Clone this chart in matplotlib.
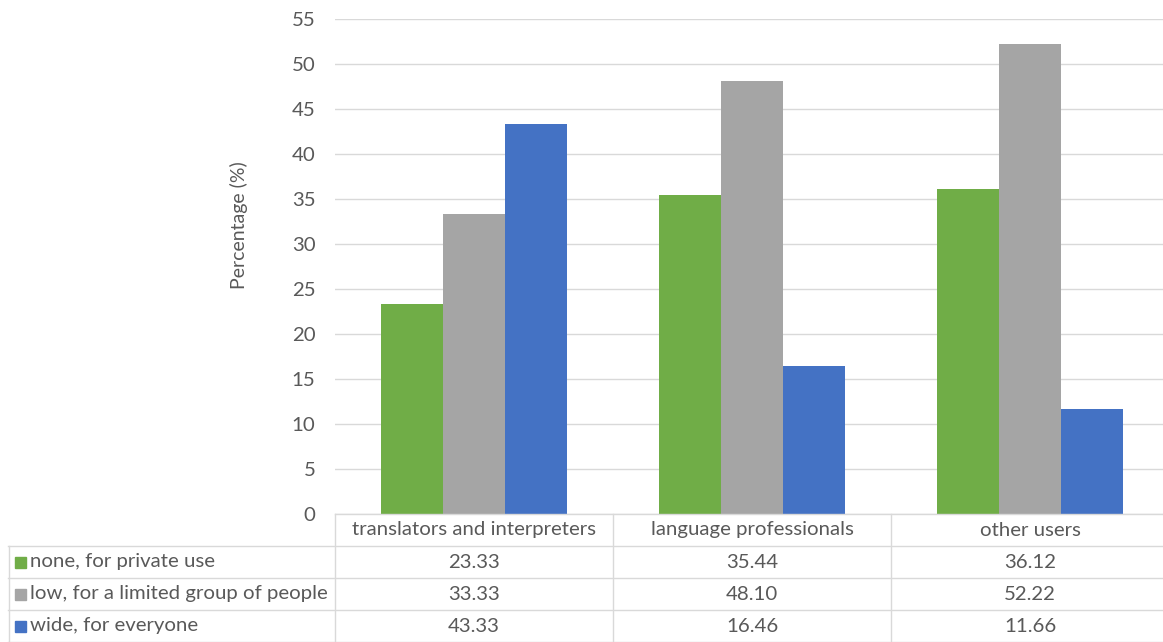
import numpy as np
import matplotlib
import matplotlib.pyplot as plt
from matplotlib.lines import Line2D
from matplotlib.patches import Rectangle

matplotlib.rc("font", family=["Lato", "DejaVu Sans"], size=13)

categories = ["translators and interpreters", "language professionals", "other users"]
series = ["none, for private use", "low, for a limited group of people", "wide, for everyone"]
none_vals = [23.33, 35.44, 36.12]
low_vals = [33.33, 48.10, 52.22]
wide_vals = [43.33, 16.46, 11.66]
colors = ["#70ad47", "#a5a5a5", "#4472c4"]
yticks = list(range(0, 60, 5))

W, H = 1163, 642
fig = plt.figure(figsize=(W / 100, H / 100), dpi=100)
# plot area runs a little past the right edge of the picture, as in the source
x0, x1, yb, yt = 335, 1169, 514, 19
ax = fig.add_axes([x0 / W, 1 - yb / H, (x1 - x0) / W, (yb - yt) / H])

txt = "#595959"
grid = "#d9d9d9"
fs = 14.7
values = [none_vals, low_vals, wide_vals]
x = np.arange(len(categories))
bw = 0.223
for i, (vals, c) in enumerate(zip(values, colors)):
    ax.bar(x + (i - 1) * bw, vals, width=bw, color=c, zorder=3)

ax.set_xlim(-0.5, len(categories) - 0.5)
ax.set_ylim(0, 55)
ax.set_yticks(yticks)
ax.set_xticks([])
ax.yaxis.grid(True, color=grid, linewidth=1)
ax.tick_params(axis="y", length=0, colors=txt, labelsize=fs, pad=14)
for s in ax.spines.values():
    s.set_visible(False)
ax.set_ylabel("Percentage (%)", color=txt, fontsize=14)
ax.yaxis.set_label_coords(-0.104, 0.584)

# data table below the plot
def fx(px):
    return px / W

def fy(py):
    return 1 - py / H

col_edges = [x0 + (x1 - x0) * k / len(categories) for k in range(len(categories) + 1)]
row_h = 32
rows_y = [yb + row_h * k for k in range(len(series) + 2)]
lw = 1
fig.add_artist(Line2D([fx(x0), fx(x1)], [fy(yb), fy(yb)], color=grid, lw=lw))
for ry in rows_y[1:]:
    fig.add_artist(Line2D([fx(8), fx(x1)], [fy(ry), fy(ry)], color=grid, lw=lw))
fig.add_artist(Line2D([fx(8.5), fx(8.5)], [fy(rows_y[1]), fy(rows_y[-1])], color=grid, lw=lw))
for cx in col_edges:
    fig.add_artist(Line2D([fx(cx), fx(cx)], [fy(yb), fy(rows_y[-1])], color=grid, lw=lw))

for k, cat in enumerate(categories):
    cx = (col_edges[k] + col_edges[k + 1]) / 2
    fig.text(fx(cx), fy(yb + row_h / 2), cat, ha="center", va="center", color=txt, fontsize=fs)
for r, (name, vals, c) in enumerate(zip(series, values, colors)):
    cy = yb + row_h * (r + 1) + row_h / 2
    fig.add_artist(Rectangle((fx(15), fy(cy + 5.5)), 11 / W, 11 / H, color=c, transform=fig.transFigure))
    fig.text(fx(30), fy(cy), name, ha="left", va="center", color=txt, fontsize=fs)
    for k, v in enumerate(vals):
        cx = (col_edges[k] + col_edges[k + 1]) / 2
        fig.text(fx(cx), fy(cy), f"{v:.2f}", ha="center", va="center", color=txt, fontsize=fs)

fig.savefig("out.png", dpi=100)
